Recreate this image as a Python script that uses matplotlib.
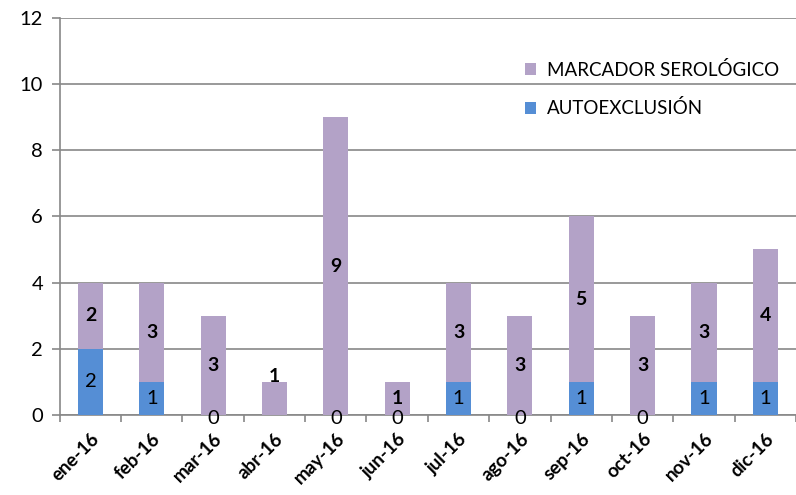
import matplotlib
matplotlib.use('Agg')
import matplotlib.pyplot as plt
import numpy as np

plt.rcParams['font.family'] = ['Lato', 'DejaVu Sans']

months = ['ene-16', 'feb-16', 'mar-16', 'abr-16', 'may-16', 'jun-16',
          'jul-16', 'ago-16', 'sep-16', 'oct-16', 'nov-16', 'dic-16']
# abr has no AUTOEXCLUSIÓN value in the source (no label shown)
autoexclusion = [2, 1, 0, np.nan, 0, 0, 1, 0, 1, 0, 1, 1]
marcador = [2, 3, 3, 1, 9, 1, 3, 3, 5, 3, 3, 4]

blue = '#558ED5'
purple = '#B3A2C7'
grid_c = '#888888'

fig = plt.figure(figsize=(7.96, 4.95), dpi=100)
ax = fig.add_axes([0.075, 0.162, 0.925, 0.8016])

x = np.arange(len(months))
auto = np.nan_to_num(np.array(autoexclusion, dtype=float))
marc = np.array(marcador, dtype=float)

ax.bar(x, auto, width=0.41, color=blue, label='AUTOEXCLUSIÓN', zorder=3)
ax.bar(x, marc, width=0.41, bottom=auto, color=purple,
       label='MARCADOR SEROLÓGICO', zorder=3)

# data labels
for i in range(len(months)):
    if not np.isnan(autoexclusion[i]):
        ya = auto[i] / 2 if auto[i] > 0 else -0.1
        ax.text(x[i], ya, '%d' % autoexclusion[i], ha='center',
                va='center', fontsize=14.5, color='black', zorder=4)
    ypos = auto[i] + marc[i] / 2
    if months[i] == 'abr-16':
        ypos = marc[i] + 0.15
    ax.text(x[i], ypos, '%d' % marcador[i], ha='center', va='center',
            fontsize=14, fontweight='bold', color='black', zorder=4)

ax.set_xlim(-0.5, len(months) - 0.5)
ax.set_ylim(0, 12)
ax.set_yticks(range(0, 13, 2))
ax.yaxis.grid(True, color=grid_c, linewidth=1.2, zorder=0)
ax.set_axisbelow(True)

ax.set_xticks(x)
ax.set_xticklabels(months, rotation=45, ha='right', rotation_mode='anchor',
                   fontsize=13.5, fontweight='bold')
ax.set_xticks(np.arange(-0.5, len(months), 1), minor=True)
ax.tick_params(axis='x', which='major', length=0, pad=11)
ax.tick_params(axis='x', which='minor', length=5, color=grid_c, width=1.2)
ax.tick_params(axis='y', length=6, color=grid_c, width=1.2, labelsize=14.5,
               pad=6)

for s in ['top', 'right']:
    ax.spines[s].set_visible(False)
for s in ['left', 'bottom']:
    ax.spines[s].set_color(grid_c)
    ax.spines[s].set_linewidth(1.2)

h, l = ax.get_legend_handles_labels()
leg = ax.legend(h[::-1], l[::-1], loc='upper right', bbox_to_anchor=(1.0, 0.935),
                frameon=False, fontsize=13.5, handlelength=0.6, handleheight=0.6,
                labelspacing=1.1, handletextpad=0.6)

fig.savefig('out.png', dpi=100)
